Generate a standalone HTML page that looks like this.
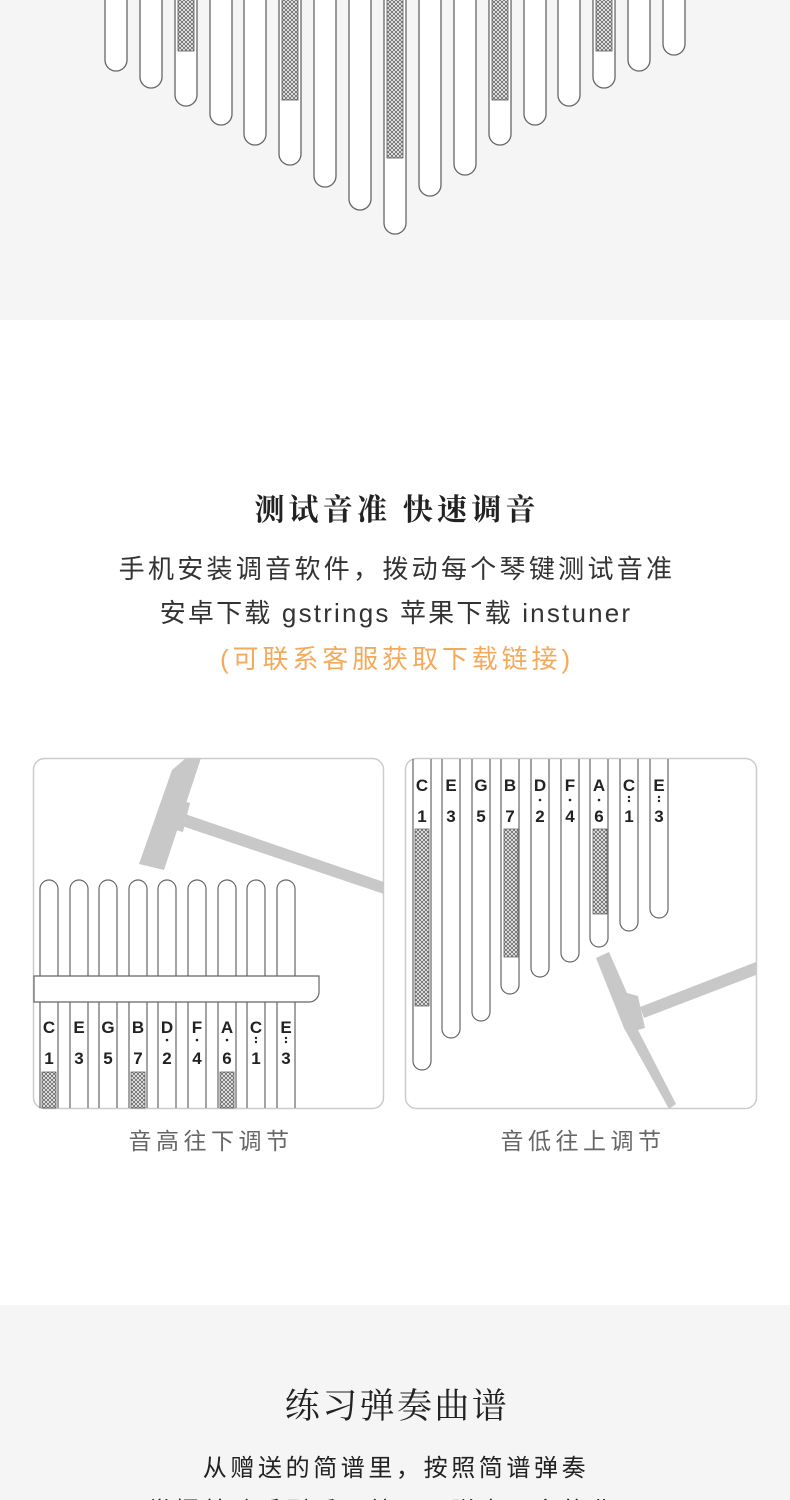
<!DOCTYPE html>
<html><head><meta charset="utf-8"><style>
html,body{margin:0;padding:0;width:790px;height:1500px;overflow:hidden;background:#fff}
svg{display:block}
.s{font-family:"Liberation Serif","Noto Serif CJK SC",serif}
.a{font-family:"Liberation Sans","Noto Sans CJK SC",sans-serif}
</style></head><body>
<svg width="790" height="1500" viewBox="0 0 790 1500" xmlns="http://www.w3.org/2000/svg">
<defs>
<pattern id="h" width="4" height="4" patternUnits="userSpaceOnUse">
<rect width="4" height="4" fill="#eee"/>
<path d="M0 0L4 4M4 0L0 4" stroke="#555" stroke-width="0.7"/>
</pattern>
</defs>
<rect x="0" y="0" width="790" height="320" fill="#f5f5f5"/>
<rect x="0" y="1305" width="790" height="195" fill="#f5f5f5"/>
<g fill="#fff" stroke="#666" stroke-width="1.3">
<path d="M105 -5V60a11 11 0 0 0 22 0V-5"/>
<path d="M140 -5V77a11 11 0 0 0 22 0V-5"/>
<path d="M175 -5V95a11 11 0 0 0 22 0V-5"/>
<path d="M210 -5V114a11 11 0 0 0 22 0V-5"/>
<path d="M244 -5V134a11 11 0 0 0 22 0V-5"/>
<path d="M279 -5V154a11 11 0 0 0 22 0V-5"/>
<path d="M314 -5V176a11 11 0 0 0 22 0V-5"/>
<path d="M349 -5V199a11 11 0 0 0 22 0V-5"/>
<path d="M384 -5V223a11 11 0 0 0 22 0V-5"/>
<path d="M419 -5V185a11 11 0 0 0 22 0V-5"/>
<path d="M454 -5V164a11 11 0 0 0 22 0V-5"/>
<path d="M489 -5V134a11 11 0 0 0 22 0V-5"/>
<path d="M524 -5V114a11 11 0 0 0 22 0V-5"/>
<path d="M558 -5V95a11 11 0 0 0 22 0V-5"/>
<path d="M593 -5V77a11 11 0 0 0 22 0V-5"/>
<path d="M628 -5V60a11 11 0 0 0 22 0V-5"/>
<path d="M663 -5V44a11 11 0 0 0 22 0V-5"/>
</g>
<g fill="url(#h)" stroke="#555" stroke-width="0.8">
<rect x="178" y="-1" width="16" height="52"/>
<rect x="282" y="-1" width="16" height="101"/>
<rect x="387" y="-1" width="16" height="159"/>
<rect x="492" y="-1" width="16" height="101"/>
<rect x="596" y="-1" width="16" height="52"/>
</g>

<text class="s" x="397" y="520" font-size="30" font-weight="bold" text-anchor="middle" fill="#222" letter-spacing="4.2">测试音准 快速调音</text>
<text class="a" x="397" y="578" font-size="26" text-anchor="middle" fill="#333" letter-spacing="3.3">手机安装调音软件，拨动每个琴键测试音准</text>
<text class="a" x="396" y="622" font-size="26" text-anchor="middle" fill="#333" letter-spacing="2.2">安卓下载 gstrings  苹果下载 instuner</text>
<text class="a" x="397" y="668" font-size="26" text-anchor="middle" fill="#f5a95b" letter-spacing="3.9">(可联系客服获取下载链接)</text>

<!-- left panel -->
<rect x="33.5" y="758.5" width="350" height="350" rx="11" fill="#fff" stroke="#ccc" stroke-width="1.5"/>
<g fill="#c8c8c8">
<polygon points="182,813 179,825 384,894 384,882"/>
<polygon points="186,758 201,758 164,870 139,864 172,770"/>
<polygon points="164,795 190,803 183,832 156,825"/>
</g>
<g fill="none" stroke="#666" stroke-width="1.2">
<path d="M40 1108V889a9 9 0 0 1 18 0V1108"/>
<path d="M70 1108V889a9 9 0 0 1 18 0V1108"/>
<path d="M99 1108V889a9 9 0 0 1 18 0V1108"/>
<path d="M129 1108V889a9 9 0 0 1 18 0V1108"/>
<path d="M158 1108V889a9 9 0 0 1 18 0V1108"/>
<path d="M188 1108V889a9 9 0 0 1 18 0V1108"/>
<path d="M218 1108V889a9 9 0 0 1 18 0V1108"/>
<path d="M247 1108V889a9 9 0 0 1 18 0V1108"/>
<path d="M277 1108V889a9 9 0 0 1 18 0V1108"/>
</g>
<path d="M34 976H319V992a10 10 0 0 1-10 10H34Z" fill="#fff" stroke="#666" stroke-width="1.2"/>
<g fill="url(#h)" stroke="#555" stroke-width="0.7">
<rect x="42" y="1072" width="14" height="36"/>
<rect x="131" y="1072" width="14" height="36"/>
<rect x="220" y="1072" width="14" height="36"/>
</g>
<g class="a" font-size="17" font-weight="bold" fill="#222" text-anchor="middle">
<text x="49" y="1033">C</text><text x="49" y="1064">1</text>
<text x="79" y="1033">E</text><text x="79" y="1064">3</text>
<text x="108" y="1033">G</text><text x="108" y="1064">5</text>
<text x="138" y="1033">B</text><text x="138" y="1064">7</text>
<text x="167" y="1033">D</text><text x="167" y="1064">2</text>
<text x="197" y="1033">F</text><text x="197" y="1064">4</text>
<text x="227" y="1033">A</text><text x="227" y="1064">6</text>
<text x="256" y="1033">C</text><text x="256" y="1064">1</text>
<text x="286" y="1033">E</text><text x="286" y="1064">3</text>
</g>
<g fill="#222">
<circle cx="167" cy="1040" r="1.3"/><circle cx="197" cy="1040" r="1.3"/><circle cx="227" cy="1040" r="1.3"/>
<circle cx="256" cy="1038" r="1.2"/><circle cx="256" cy="1042" r="1.2"/>
<circle cx="286" cy="1038" r="1.2"/><circle cx="286" cy="1042" r="1.2"/>
</g>
<text class="a" x="211" y="1149" font-size="23" text-anchor="middle" fill="#666" letter-spacing="4.5">音高往下调节</text>

<!-- right panel -->
<rect x="405.5" y="758.5" width="351" height="350" rx="11" fill="#fff" stroke="#ccc" stroke-width="1.5"/>
<g fill="none" stroke="#666" stroke-width="1.2">
<path d="M413 759V1061a9 9 0 0 0 18 0V759"/>
<path d="M442 759V1029a9 9 0 0 0 18 0V759"/>
<path d="M472 759V1012a9 9 0 0 0 18 0V759"/>
<path d="M501 759V985a9 9 0 0 0 18 0V759"/>
<path d="M531 759V968a9 9 0 0 0 18 0V759"/>
<path d="M561 759V953a9 9 0 0 0 18 0V759"/>
<path d="M590 759V938a9 9 0 0 0 18 0V759"/>
<path d="M620 759V922a9 9 0 0 0 18 0V759"/>
<path d="M650 759V909a9 9 0 0 0 18 0V759"/>
</g>
<g fill="url(#h)" stroke="#555" stroke-width="0.7">
<rect x="415" y="829" width="14" height="177"/>
<rect x="504" y="829" width="14" height="128"/>
<rect x="593" y="829" width="14" height="85"/>
</g>
<g class="a" font-size="17" font-weight="bold" fill="#222" text-anchor="middle">
<text x="422" y="791">C</text><text x="422" y="822">1</text>
<text x="451" y="791">E</text><text x="451" y="822">3</text>
<text x="481" y="791">G</text><text x="481" y="822">5</text>
<text x="510" y="791">B</text><text x="510" y="822">7</text>
<text x="540" y="791">D</text><text x="540" y="822">2</text>
<text x="570" y="791">F</text><text x="570" y="822">4</text>
<text x="599" y="791">A</text><text x="599" y="822">6</text>
<text x="629" y="791">C</text><text x="629" y="822">1</text>
<text x="659" y="791">E</text><text x="659" y="822">3</text>
</g>
<g fill="#222">
<circle cx="540" cy="800" r="1.3"/><circle cx="570" cy="800" r="1.3"/><circle cx="599" cy="800" r="1.3"/>
<circle cx="629" cy="797" r="1.2"/><circle cx="629" cy="801" r="1.2"/>
<circle cx="659" cy="797" r="1.2"/><circle cx="659" cy="801" r="1.2"/>
</g>
<g fill="#c8c8c8">
<polygon points="640,1007 644,1018 756,975 756,962"/>
<polygon points="596,958 609,952 627,993 638,996 645,1028 638,1030 676,1104 669,1109 624,1028 612,998"/>
</g>
<text class="a" x="583" y="1149" font-size="23" text-anchor="middle" fill="#666" letter-spacing="4.5">音低往上调节</text>

<text class="s" x="397" y="1418" font-size="35" text-anchor="middle" fill="#222" letter-spacing="2.4">练习弹奏曲谱</text>
<text class="a" x="396" y="1476" font-size="24" text-anchor="middle" fill="#222" letter-spacing="3.6">从赠送的简谱里，按照简谱弹奏</text>
<text class="a" x="396" y="1519" font-size="24" text-anchor="middle" fill="#222" letter-spacing="3.6">掌握基础手型后，就可以弹奏更多的曲目</text>
</svg>
</body></html>
